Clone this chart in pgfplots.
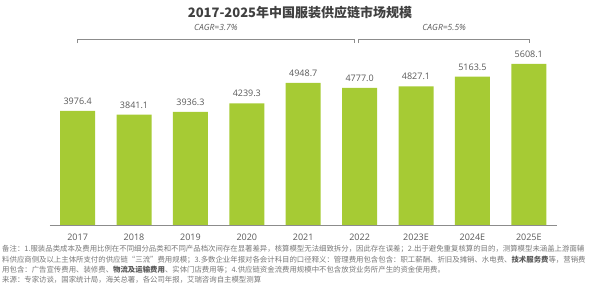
\documentclass[border=0pt]{standalone}
\usepackage{fontspec}
\setmainfont{Open Sans}
\newfontfamily\cjk{Noto Sans CJK SC}
\usepackage{pgfplots}
\pgfplotsset{compat=1.18}
\definecolor{barg}{RGB}{166,203,52}
\definecolor{txt}{RGB}{89,89,89}
\definecolor{note}{RGB}{120,120,120}
\definecolor{axisg}{RGB}{140,140,140}
\begin{document}
\begin{tikzpicture}[x=1pt,y=1pt]
\path[use as bounding box] (0,0) rectangle (600,283);
\begin{axis}[
  at={(50pt,58pt)}, anchor=south west,
  scale only axis, width=507pt, height=172.3pt,
  xmin=-0.49, xmax=8.5, ymin=0, ymax=6000,
  axis x line*=bottom, axis y line=none,
  x axis line style={draw=axisg, line width=0.8pt, -},
  xtick=data,
  xticklabels={2017,2018,2019,2020,2021,2022,2023E,2024E,2025E},
  major tick length=0pt,
  xticklabel style={font=\fontsize{9}{10}\selectfont, text=txt, yshift=-5.5pt},
  /pgf/number format/assume math mode=true,
  ybar, bar width=35pt,
  clip=false,
  nodes near coords={\pgfmathprintnumber[fixed,fixed zerofill,precision=1,1000 sep={}]{\pgfplotspointmeta}},
  every node near coord/.append style={font=\fontsize{9}{10}\selectfont, text=txt, yshift=3pt},
]
\addplot[fill=barg, draw=none] coordinates {
 (0,3976.4) (1,3841.1) (2,3936.3) (3,4239.3) (4,4948.7)
 (5,4777.0) (6,4827.1) (7,5163.5) (8,5608.1)};
\draw[axisg, line width=0.6pt] (axis cs:0,6330) -- (axis cs:0,6460) -- (axis cs:4.9,6460) -- (axis cs:4.9,6330);
\draw[axisg, line width=0.6pt] (axis cs:4.98,6330) -- (axis cs:4.98,6460) -- (axis cs:8,6460) -- (axis cs:8,6330);
\node[font=\fontsize{8.5}{10}\selectfont\itshape, text=txt] at (axis cs:2.45,6880) {CAGR=3.7\%};
\node[font=\fontsize{8.5}{10}\selectfont\itshape, text=txt] at (axis cs:6.5,6880) {CAGR=5.5\%};
\end{axis}
\node[font=\cjk\bfseries\fontsize{13}{15}\selectfont, text={rgb,255:red,64;green,64;blue,64}] at (300,270) {2017-2025年中国服装供应链市场规模};
\begin{scope}[every node/.style={anchor=west, inner sep=0pt, font=\cjk\fontsize{7.4}{8}\selectfont, text=note}]
\node at (2,34) {备注：1.服装品类成本及费用比例在不同细分品类和不同产品档次间存在显著差异，核算模型无法细致拆分，因此存在误差；2.出于避免重复核算的目的，测算模型未涵盖上游面辅};
\node at (2,23.5) {料供应商侧及以上主体所支付的供应链“三流”费用规模；3.多数企业年报对各会计科目的口径释义：管理费用包含包含：职工薪酬、折旧及摊销、水电费、{\color{txt}\bfseries 技术服务费}等，营销费};
\node at (2,13) {用包含：广告宣传费用、装修费、{\color{txt}\bfseries 物流及运输费用}、实体门店费用等；4.供应链资金流费用规模中不包含放贷业务所产生的资金使用费。};
\node at (2,3) {来源：专家访谈，国家统计局，海关总署，各公司年报，艾瑞咨询自主模型测算};
\end{scope}
\end{tikzpicture}
\end{document}
